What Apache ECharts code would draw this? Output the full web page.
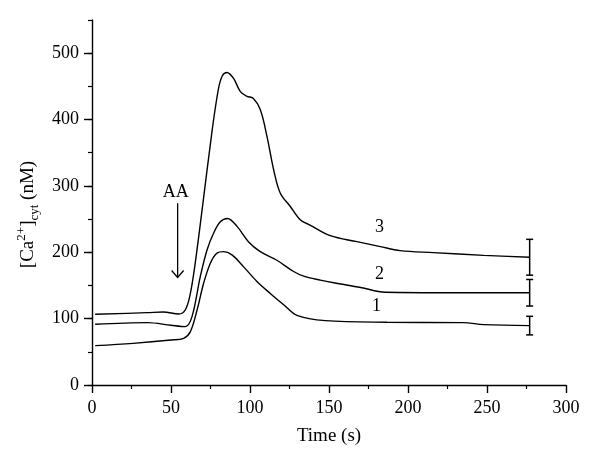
<!DOCTYPE html>
<html>
<head>
<meta charset="utf-8">
<script src="https://cdn.jsdelivr.net/npm/echarts@6/dist/echarts.min.js"></script>
<style>html,body{margin:0;padding:0;background:#fff}#c{width:600px;height:468px}</style>
</head>
<body>
<div id="c"></div>
<script>
// Curve 1
var time1 = [2, 26, 50, 58, 62.2, 66.5, 70.6, 74.9, 79, 83.3, 88.6, 96, 104.4, 112.8, 121.3, 129.7, 147.7, 186.7, 235, 248, 277];
var ca1   = [59.3, 62.8, 67.8, 70.4, 80, 113, 153, 183.5, 198.5, 201, 196, 178, 156, 138, 121, 105, 97, 94.5, 94, 91, 89.5];
// Curve 2
var time2 = [2, 35, 50, 59, 63.3, 68.5, 72.8, 77, 81.2, 85.8, 91.8, 99, 106.5, 117, 127.6, 134, 144.5, 153, 170, 185.6, 229, 277];
var ca2   = [91.5, 94, 90, 88, 103, 163, 203.5, 229, 246, 251, 239, 216, 201, 188, 171, 164, 158, 154, 147, 139.7, 139, 139];
// Curve 3
var time3 = [2, 35, 45, 55, 59, 62, 65, 70, 76, 80, 82.5, 85.4, 89.6, 93.9, 98, 102, 106.5, 110.8, 115, 119.2, 125.5, 131.8, 138, 150.8, 167.7, 182.5, 195, 216, 248, 277];
var ca3   = [106.5, 109, 110, 107, 113, 135, 178, 270, 383, 446, 466, 471, 462, 442, 435, 432, 415, 374, 324, 289, 269, 249, 241, 225, 216, 208.5, 202.5, 199.5, 195.4, 192.5];
// Error bars at the end of each curve
var errTime = [277, 277, 277];
var errMean = [89.5, 139, 192.5];
var errDev  = [14, 20, 27];
// Curve labels
var labelText = ['1', '2', '3'];
var labelTime = [180, 182, 182];
var labelCa   = [119, 167, 238];
// AA arrow
var arrowText = 'AA';
var arrowTime = 54.2;
var arrowTextCa = 291;
var arrowTopCa = 274;
var arrowTipCa = 162;
// Axis ticks
var yMajorTicks = [0, 100, 200, 300, 400, 500];

function zip(a, b) { return a.map(function (v, i) { return [v, b[i]]; }); }

var FONT = 'Liberation Serif';
var chart = echarts.init(document.getElementById('c'));

var lineStyle = { color: '#000', width: 1.4 };
function curve(t, c) {
  return { type: 'line', data: zip(t, c), showSymbol: false, symbol: 'none', smooth: 0.35,
           lineStyle: lineStyle, silent: true, animation: false, z: 3 };
}

chart.setOption({
  animation: false,
  backgroundColor: '#fff',
  grid: { left: 92, right: 34, top: 20, bottom: 83 },
  xAxis: {
    type: 'value', min: 0, max: 300, interval: 50,
    name: 'Time (s)', nameLocation: 'middle', nameGap: 42,
    nameTextStyle: { fontFamily: FONT, fontSize: 19, color: '#000' },
    axisLine: { show: true, lineStyle: { color: '#000', width: 1.4 } },
    axisTick: { show: true, length: 8, lineStyle: { color: '#000', width: 1.4 } },
    minorTick: { show: true, splitNumber: 2, length: 4, lineStyle: { color: '#000', width: 1.2 } },
    axisLabel: { fontFamily: FONT, fontSize: 18, color: '#000', margin: 14 },
    splitLine: { show: false }
  },
  yAxis: [{
    type: 'value', min: 0, max: 550, interval: 50,
    name: '{b|[Ca}{sup|2+}{b|]}{sub|cyt}{b| (nM)}', nameLocation: 'middle', nameGap: 50,
    nameTextStyle: {
      padding: [0, 24, 0, 0],
      rich: {
        b: { fontFamily: FONT, fontSize: 19, color: '#000', lineHeight: 26 },
        sup: { fontFamily: FONT, fontSize: 13, color: '#000', verticalAlign: 'top', lineHeight: 26 },
        sub: { fontFamily: FONT, fontSize: 13, color: '#000', verticalAlign: 'bottom', lineHeight: 26 }
      }
    },
    axisLine: { show: true, lineStyle: { color: '#000', width: 1.4 } },
    axisTick: { show: true, length: 4, lineStyle: { color: '#000', width: 1.2 } },
    axisLabel: {
      fontFamily: FONT, fontSize: 18, color: '#000', margin: 13,
      formatter: function (v) { return (v % 100 === 0 && v <= 500) ? String(v) : ''; }
    },
    splitLine: { show: false }
  }, {
    type: 'value', min: 0, max: 550, position: 'left', offset: 0,
    axisLine: { show: false },
    axisTick: { show: true, length: 8, customValues: yMajorTicks, lineStyle: { color: '#000', width: 1.4 } },
    axisLabel: { show: false },
    splitLine: { show: false }
  }],
  series: [
    curve(time1, ca1),
    curve(time2, ca2),
    curve(time3, ca3),
    {
      type: 'custom', silent: true, z: 4,
      data: errTime.map(function (t, i) { return [t, errMean[i], errDev[i]]; }),
      renderItem: function (params, api) {
        var x = api.value(0), m = api.value(1), d = api.value(2);
        var top = api.coord([x, m + d]), bot = api.coord([x, m - d]);
        var s = { stroke: '#000', fill: 'none', lineWidth: 1.5 };
        return { type: 'group', children: [
          { type: 'line', shape: { x1: top[0], y1: top[1], x2: bot[0], y2: bot[1] }, style: s },
          { type: 'line', shape: { x1: top[0] - 3.5, y1: top[1], x2: top[0] + 3.5, y2: top[1] }, style: s },
          { type: 'line', shape: { x1: bot[0] - 3.5, y1: bot[1], x2: bot[0] + 3.5, y2: bot[1] }, style: s }
        ]};
      }
    },
    {
      type: 'custom', silent: true, z: 5,
      data: labelTime.map(function (t, i) { return [t, labelCa[i], i]; }),
      renderItem: function (params, api) {
        var p = api.coord([api.value(0), api.value(1)]);
        return { type: 'text', x: p[0], y: p[1], style: {
          text: labelText[api.value(2)], font: '18px "' + FONT + '"', fill: '#000',
          textAlign: 'center', textVerticalAlign: 'middle' } };
      }
    },
    {
      type: 'custom', silent: true, z: 5,
      data: [[arrowTime, arrowTextCa, arrowTopCa, arrowTipCa]],
      renderItem: function (params, api) {
        var x = api.value(0);
        var tp = api.coord([x, api.value(1)]);
        var a = api.coord([x, api.value(2)]);
        var b = api.coord([x, api.value(3)]);
        var s = { stroke: '#000', fill: 'none', lineWidth: 1.3 };
        return { type: 'group', children: [
          { type: 'text', x: tp[0] - 2, y: tp[1], style: { text: arrowText, font: '18px "' + FONT + '"', fill: '#000',
            textAlign: 'center', textVerticalAlign: 'middle' } },
          { type: 'line', shape: { x1: a[0], y1: a[1], x2: b[0], y2: b[1] }, style: s },
          { type: 'polyline', shape: { points: [[b[0] - 6, b[1] - 7], [b[0], b[1]], [b[0] + 6, b[1] - 7]] }, style: s }
        ]};
      }
    }
  ]
});
</script>
</body>
</html>
